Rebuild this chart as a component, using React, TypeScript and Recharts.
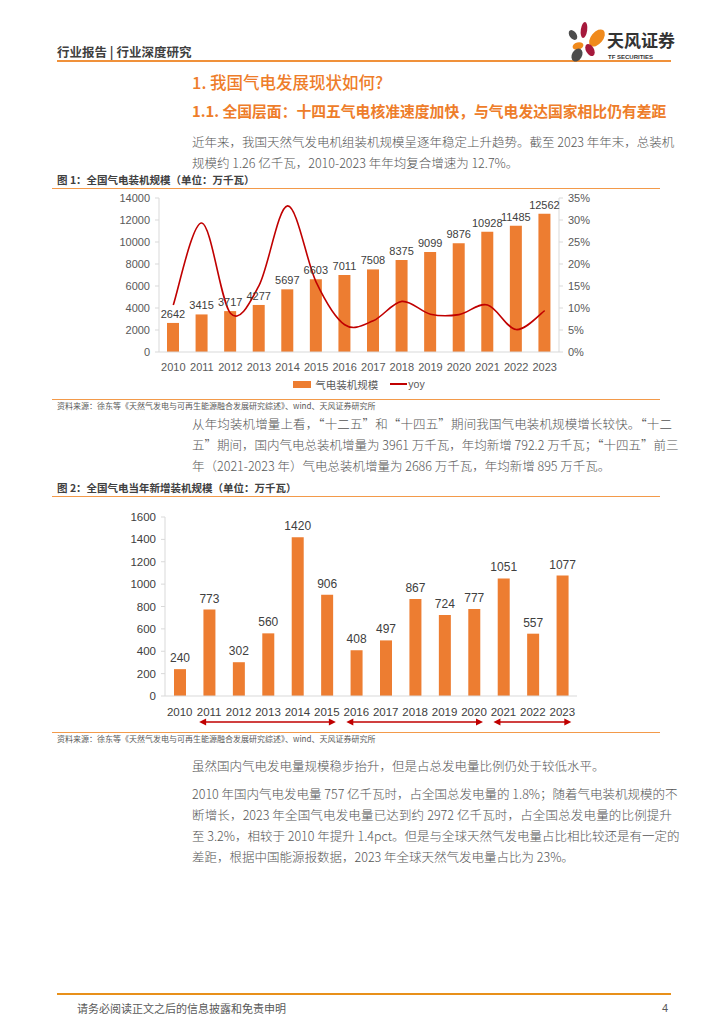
import React from 'react';
import {
  ComposedChart,
  BarChart,
  Bar,
  Line,
  XAxis,
  YAxis,
  Legend,
  LabelList,
  ReferenceLine,
} from 'recharts';

// ---------- data ----------
const years = ['2010', '2011', '2012', '2013', '2014', '2015', '2016', '2017', '2018', '2019', '2020', '2021', '2022', '2023'];
const capacity = [2642, 3415, 3717, 4277, 5697, 6603, 7011, 7508, 8375, 9099, 9876, 10928, 11485, 12562];
const yoy = [10.7, 29.3, 8.8, 15.1, 33.2, 15.9, 6.2, 7.1, 11.5, 8.6, 8.5, 10.7, 5.1, 9.4];
const newCapacity = [240, 773, 302, 560, 1420, 906, 408, 497, 867, 724, 777, 1051, 557, 1077];

const leftTicks1 = [0, 2000, 4000, 6000, 8000, 10000, 12000, 14000];
const rightTicks1 = [0, 5, 10, 15, 20, 25, 30, 35];
const leftTicks2 = [0, 200, 400, 600, 800, 1000, 1200, 1400, 1600];
const periods: [string, string][] = [
  ['2011', '2015'],
  ['2016', '2020'],
  ['2021', '2023'],
];
const arrowLevel = -232;

const seriesName1 = '气电装机规模';
const seriesName2 = 'yoy';

const data1 = years.map((y, i) => ({ year: y, capacity: capacity[i], yoy: yoy[i] }));
const data2 = years.map((y, i) => ({ year: y, value: newCapacity[i] }));

// ---------- styles ----------
const ORANGE = '#ED7D31';
const RED = '#C00000';
const HEAD = '#EE7D2A';
const TXT = '#555555';
const CJK = '"Noto Sans CJK SC", "Noto Sans", sans-serif';
const NUM = '"Liberation Sans", "Noto Sans CJK SC", sans-serif';

// Excel-like smooth curve (Catmull-Rom)
function smoothCurve(context: any) {
  let pts: number[][] = [];
  return {
    areaStart() {},
    areaEnd() {},
    lineStart() {
      pts = [];
    },
    point(x: number, y: number) {
      pts.push([+x, +y]);
    },
    lineEnd() {
      const n = pts.length;
      if (!n) return;
      context.moveTo(pts[0][0], pts[0][1]);
      for (let i = 0; i < n - 1; i++) {
        const p0 = pts[i - 1] || pts[i];
        const p1 = pts[i];
        const p2 = pts[i + 1];
        const p3 = pts[i + 2] || p2;
        const k = 1 / 6;
        context.bezierCurveTo(
          p1[0] + (p2[0] - p0[0]) * k,
          p1[1] + (p2[1] - p0[1]) * k,
          p2[0] - (p3[0] - p1[0]) * k,
          p2[1] - (p3[1] - p1[1]) * k,
          p2[0],
          p2[1]
        );
      }
    },
  };
}

const abs = (left: number, top: number, extra: React.CSSProperties = {}): React.CSSProperties => ({
  position: 'absolute',
  left,
  top,
  ...extra,
});

const Line1 = ({ top, left = 52, width = 608, color = '#F39A4A', h = 1 }: any) => (
  <div style={abs(left, top, { width, height: h, background: color })} />
);

const JLine = ({ top, text, last = false }: { top: number; text: string; last?: boolean }) => (
  <div
    style={abs(192, top, {
      width: 480,
      height: 21,
      lineHeight: '21px',
      fontSize: 12.5,
      fontWeight: 300,
      color: TXT,
      fontFamily: CJK,
      whiteSpace: 'nowrap',
      textAlign: last ? 'left' : 'justify',
      textAlignLast: last ? 'left' : 'justify',
    } as React.CSSProperties)}
  >
    {text}
  </div>
);

const legend1 = () => (
  <div
    style={{
      display: 'flex',
      justifyContent: 'center',
      alignItems: 'center',
      height: 16,
      fontSize: 10.5,
      color: '#595959',
      fontFamily: CJK,
    }}
  >
    <span style={{ display: 'inline-block', width: 18, height: 7, background: ORANGE, marginRight: 4 }} />
    <span style={{ marginRight: 12 }}>{seriesName1}</span>
    <span style={{ display: 'inline-block', width: 17, height: 2, background: RED, marginRight: 1 }} />
    <span style={{ fontFamily: NUM }}>{seriesName2}</span>
  </div>
);

const arrowShape = (props: any) => {
  const { x1, y1, x2 } = props;
  const a = x1 - 10;
  const b = x2 + 9;
  const y = y1;
  return (
    <g>
      <line x1={a + 4} y1={y} x2={b - 4} y2={y} stroke={RED} strokeWidth={1.6} />
      <path d={`M${a},${y} L${a + 7},${y - 3.5} L${a + 7},${y + 3.5} Z`} fill={RED} />
      <path d={`M${b},${y} L${b - 7},${y - 3.5} L${b - 7},${y + 3.5} Z`} fill={RED} />
    </g>
  );
};

export default function App() {
  return (
    <div
      style={{
        position: 'absolute',
        left: 0,
        top: 0,
        width: 724,
        height: 1024,
        background: '#fff',
        overflow: 'hidden',
        fontFamily: CJK,
      }}
    >
      {/* header */}
      <div style={abs(57, 43, { fontSize: 12.5, fontWeight: 700, color: '#404040', lineHeight: '18px', whiteSpace: 'nowrap' })}>
        行业报告 | 行业深度研究
      </div>
      <Line1 top={60} left={57} width={614} h={2} color="#F0913A" />

      {/* logo */}
      <svg style={abs(562, 16)} width={118} height={50}>
        <ellipse cx={11} cy={19} rx={3.5} ry={5.5} fill="#4D4D4D" transform="rotate(-35 11 19)" />
        <ellipse cx={22} cy={14} rx={3.2} ry={8} fill="#A6193C" transform="rotate(8 22 14)" />
        <ellipse cx={35} cy={22} rx={6} ry={10} fill="#F08A1C" transform="rotate(40 35 22)" />
        <ellipse cx={16} cy={30} rx={5.5} ry={3.5} fill="#F08A1C" transform="rotate(-15 16 30)" />
        <ellipse cx={28} cy={34} rx={4} ry={6.5} fill="#A6193C" transform="rotate(-30 28 34)" />
        <ellipse cx={15} cy={39} rx={5} ry={7} fill="#4D4D4D" transform="rotate(30 15 39)" />
        <text x={45} y={31} fontSize={17} fontWeight={700} fill="#333" fontFamily={CJK}>
          天风证券
        </text>
        <text x={46} y={43} fontSize={6} fontWeight={700} fill="#333" fontFamily={NUM}>
          TF SECURITIES
        </text>
      </svg>

      {/* headings */}
      <div style={abs(192, 70, { fontSize: 16.5, fontWeight: 500, color: HEAD, lineHeight: '24px', whiteSpace: 'nowrap' })}>
        1. 我国气电发展现状如何?
      </div>
      <div style={abs(192, 100, { fontSize: 14.8, fontWeight: 700, color: HEAD, lineHeight: '22px', whiteSpace: 'nowrap' })}>
        1.1. 全国层面：十四五气电核准速度加快，与气电发达国家相比仍有差距
      </div>

      <JLine top={130.5} text="近年来，我国天然气发电机组装机规模呈逐年稳定上升趋势。截至 2023 年年末，总装机" />
      <JLine top={151.5} text="规模约 1.26 亿千瓦，2010-2023 年年均复合增速为 12.7%。" last />

      {/* figure 1 */}
      <div style={abs(57, 172, { fontSize: 10.5, fontWeight: 700, color: '#404040', lineHeight: '16px', whiteSpace: 'nowrap' })}>
        图 1：全国气电装机规模（单位：万千瓦）
      </div>
      <Line1 top={188} />

      <div style={abs(100, 185, { fontFamily: NUM })}>
        <ComposedChart width={520} height={215} data={data1} margin={{ top: 13, right: 11, bottom: 8, left: 9 }}>
          <XAxis
            dataKey="year"
            height={24}
            axisLine={{ stroke: '#D9D9D9' }}
            tickLine={false}
            tickMargin={5}
            tick={{ fontSize: 11, fill: '#595959' }}
            interval={0}
          />
          <YAxis
            yAxisId="left"
            width={50}
            domain={[0, 14000]}
            ticks={leftTicks1}
            axisLine={{ stroke: '#D9D9D9' }}
            tickLine={{ stroke: '#D9D9D9' }}
            tickSize={4}
            tickMargin={5}
            tick={{ fontSize: 11, fill: '#595959' }}
          />
          <YAxis
            yAxisId="right"
            orientation="right"
            width={50}
            domain={[0, 35]}
            ticks={rightTicks1}
            tickFormatter={(v: number) => `${v}%`}
            axisLine={{ stroke: '#D9D9D9' }}
            tickLine={{ stroke: '#D9D9D9' }}
            tickSize={4}
            tickMargin={5}
            tick={{ fontSize: 11, fill: '#595959' }}
          />
          <Legend verticalAlign="bottom" content={legend1} />
          <Bar yAxisId="left" dataKey="capacity" name={seriesName1} fill={ORANGE} barSize={12} isAnimationActive={false}>
            <LabelList dataKey="capacity" position="top" offset={5} fontSize={11} fill="#404040" />
          </Bar>
          <Line
            yAxisId="right"
            dataKey="yoy"
            name={seriesName2}
            type={smoothCurve as any}
            stroke={RED}
            strokeWidth={1.6}
            dot={false}
            isAnimationActive={false}
          />
        </ComposedChart>
      </div>

      <Line1 top={399} />
      <div style={abs(57, 400, { fontSize: 8, color: '#595959', lineHeight: '11px', whiteSpace: 'nowrap' })}>
        资料来源：徐东等《天然气发电与可再生能源融合发展研究综述》、wind、天风证券研究所
      </div>

      <JLine top={412.5} text="从年均装机增量上看，“十二五”和“十四五”期间我国气电装机规模增长较快。“十二" />
      <JLine top={433.5} text="五”期间，国内气电总装机增量为 3961 万千瓦，年均新增 792.2 万千瓦；“十四五”前三" />
      <JLine top={455} text="年（2021-2023 年）气电总装机增量为 2686 万千瓦，年均新增 895 万千瓦。" last />

      {/* figure 2 */}
      <div style={abs(57, 480, { fontSize: 10.5, fontWeight: 700, color: '#404040', lineHeight: '16px', whiteSpace: 'nowrap' })}>
        图 2：全国气电当年新增装机规模（单位：万千瓦）
      </div>
      <Line1 top={496} />

      <div style={abs(100, 505, { fontFamily: NUM })}>
        <BarChart width={520} height={230} data={data2} margin={{ top: 12, right: 43, bottom: 15, left: 15 }}>
          <XAxis
            dataKey="year"
            height={24}
            axisLine={{ stroke: '#D9D9D9' }}
            tickLine={false}
            tickMargin={6}
            tick={{ fontSize: 11.5, fill: '#404040' }}
            interval={0}
          />
          <YAxis
            width={50}
            domain={[0, 1600]}
            ticks={leftTicks2}
            axisLine={{ stroke: '#D9D9D9' }}
            tickLine={{ stroke: '#D9D9D9' }}
            tickSize={4}
            tickMargin={5}
            tick={{ fontSize: 11.5, fill: '#404040' }}
          />
          <Bar dataKey="value" fill={ORANGE} barSize={12} isAnimationActive={false}>
            <LabelList dataKey="value" position="top" offset={7} fontSize={12} fill="#404040" />
          </Bar>
          {periods.map(([a, b]) => (
            <ReferenceLine
              key={a}
              segment={[
                { x: a, y: arrowLevel },
                { x: b, y: arrowLevel },
              ]}
              ifOverflow="visible"
              stroke={RED}
              shape={arrowShape}
            />
          ))}
        </BarChart>
      </div>

      <Line1 top={732} />
      <div style={abs(57, 733, { fontSize: 8, color: '#595959', lineHeight: '11px', whiteSpace: 'nowrap' })}>
        资料来源：徐东等《天然气发电与可再生能源融合发展研究综述》、wind、天风证券研究所
      </div>

      <JLine top={754.5} text="虽然国内气电发电量规模稳步抬升，但是占总发电量比例仍处于较低水平。" last />
      <JLine top={782.5} text="2010 年国内气电发电量 757 亿千瓦时，占全国总发电量的 1.8%；随着气电装机规模的不" />
      <JLine top={803.5} text="断增长，2023  年全国气电发电量已达到约  2972 亿千瓦时，占全国总发电量的比例提升" />
      <JLine top={824.5} text="至 3.2%，相较于 2010 年提升 1.4pct。但是与全球天然气发电量占比相比较还是有一定的" />
      <JLine top={845.5} text="差距，根据中国能源报数据，2023 年全球天然气发电量占比为 23%。" last />

      {/* footer */}
      <Line1 top={993} left={57} width={614} h={2} color="#E8901A" />
      <div style={abs(77, 1000, { fontSize: 11, color: '#595959', lineHeight: '16px', whiteSpace: 'nowrap' })}>
        请务必阅读正文之后的信息披露和免责申明
      </div>
      <div style={abs(662, 1000, { fontSize: 11, color: '#595959', lineHeight: '16px', fontFamily: NUM })}>4</div>
    </div>
  );
}
